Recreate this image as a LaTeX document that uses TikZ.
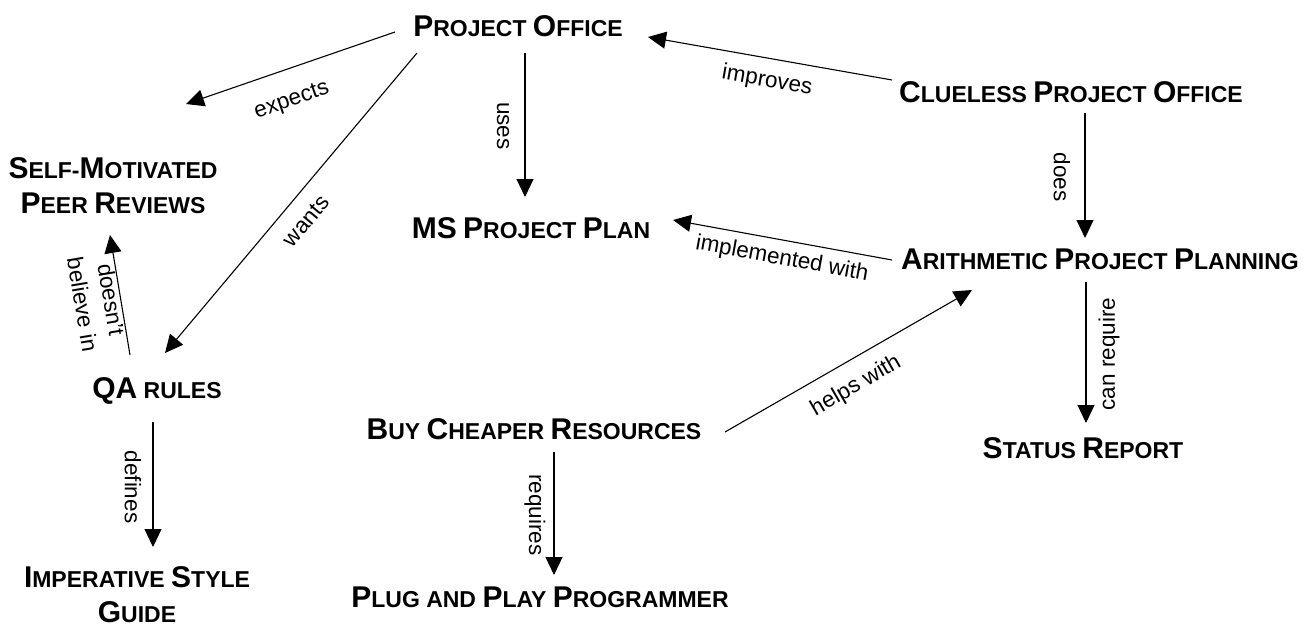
\documentclass[tikz,border=0pt]{standalone}
\usepackage{fontspec}
\setmainfont{Liberation Sans}
\usetikzlibrary{arrows.meta,calc}
% larger capital for small-caps style concept names
\newcommand\Ini[1]{{\fontsize{30}{35}\selectfont #1}}
\tikzset{
  concept/.style={font=\bfseries\fontsize{23}{35}\selectfont, inner sep=0pt},
  rel/.style={font=\fontsize{22.5}{29}\selectfont, inner sep=0pt, align=center},
  link/.style={line width=1.1pt, -{Triangle[length=18pt,width=17pt]}},
}
\begin{document}
\begin{tikzpicture}[x=1pt,y=-1pt]
\useasboundingbox (0,0) rectangle (1311,626);

% concepts
\node[concept, anchor=base] (po)  at (518,37)  {\Ini{P}ROJECT \Ini{O}FFICE};
\node[concept, anchor=base] (cpo) at (1071,102) {\Ini{C}LUELESS \Ini{P}ROJECT \Ini{O}FFICE};
\node[concept, anchor=base] (app) at (1100,269) {\Ini{A}RITHMETIC \Ini{P}ROJECT \Ini{P}LANNING};
\node[concept, anchor=base] (sr)  at (1083,458) {\Ini{S}TATUS \Ini{R}EPORT};
\node[concept, anchor=base] (msp) at (531,238) {\Ini{MS} \Ini{P}ROJECT \Ini{P}LAN};
\node[concept, anchor=north, align=center] (smp) at (113,157) {\Ini{S}ELF-\Ini{M}OTIVATED\\\Ini{P}EER \Ini{R}EVIEWS};
\node[concept, anchor=base] (qa)  at (157,398) {\Ini{QA} RULES};
\node[concept, anchor=north, align=center] (isg) at (137,566) {\Ini{I}MPERATIVE \Ini{S}TYLE\\\Ini{G}UIDE};
\node[concept, anchor=base] (bcr) at (534,439) {\Ini{B}UY \Ini{C}HEAPER \Ini{R}ESOURCES};
\node[concept, anchor=base] (ppp) at (540,607) {\Ini{P}LUG AND \Ini{P}LAY \Ini{P}ROGRAMMER};

% relations
\draw[link] ($(po.base)+(-123,-5)$) -- ($(smp.north)+(73,-53)$);
\draw[link] ($(po.base)+(-101,16)$) -- ($(qa.base)+(8,-45)$);
\draw[link] ($(po.base)+(7,16)$) -- ($(msp.base)+(-6,-41)$);
\draw[link] ($(cpo.base)+(-179,-22)$) -- ($(po.base)+(130,0)$);
\draw[link] ($(cpo.base)+(14,11)$) -- ($(app.base)+(-15,-31)$);
\draw[link] ($(app.base)+(-208,-9)$) -- ($(msp.base)+(142,-18)$);
\draw[link] ($(app.base)+(-14,13)$) -- ($(sr.base)+(3,-35)$);
\draw[link] ($(bcr.base)+(191,-7)$) -- ($(app.base)+(-128,21)$);
\draw[link] ($(bcr.base)+(20,13)$) -- ($(ppp.base)+(14,-32)$);
\draw[link] ($(qa.base)+(-4,24)$) -- ($(isg.north)+(16,-19)$);
\draw[link] ($(qa.base)+(-27,-43)$) -- ($(smp.north)+(-3,78)$);

% relation labels
\node[rel, rotate=19]    (lexp)  at (292,101) {expects};
\node[rel, rotate=50]    (lwant) at (306,221) {wants};
\node[rel, rotate=-90]   (luse)  at (503,126) {uses};
\node[rel, rotate=-10]   (limp)  at (767,81)  {improves};
\node[rel, rotate=-90]   (ldoes) at (1062,177) {does};
\node[rel, rotate=-10.3] (limpl) at (782,259) {implemented with};
\node[rel, rotate=90]    (lcan)  at (1109,354) {can require};
\node[rel, rotate=30]    (lhelp) at (856,386) {helps with};
\node[rel, rotate=-90]   (lreq)  at (535,515) {requires};
\node[rel, rotate=-90]   (ldef)  at (133,487) {defines};
\node[rel, rotate=-80.5] (ldbi)  at (97,302)  {doesn't\\believe in};
\end{tikzpicture}
\end{document}
